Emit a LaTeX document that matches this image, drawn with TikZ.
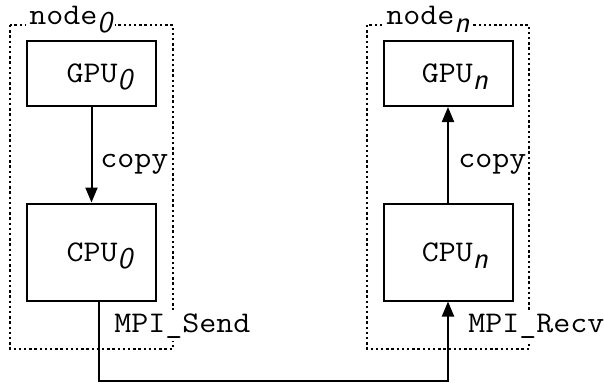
\documentclass[tikz,border=0pt]{standalone}
\usepackage{fontspec}
\setmonofont{Latin Modern Mono}[FakeStretch=1.1]
\usetikzlibrary{arrows.meta}
\newcommand{\sbs}[1]{\raisebox{-3.6pt}{\sffamily\itshape #1}}
\begin{document}
\begin{tikzpicture}[x=0.5pt,y=-0.5pt,
  every node/.style={font=\fontsize{15pt}{17pt}\selectfont\ttfamily},
  grp/.style={draw, line width=0.9pt, dash pattern=on 1.2pt off 1.4pt},
  unit/.style={draw, line width=1pt, minimum width=64.5pt, inner sep=0pt,
     text height=9pt, text depth=0pt},
  gpu/.style={unit, minimum height=32.5pt},
  cpu/.style={unit, minimum height=48.5pt},
  lbl/.style={fill=white, inner sep=1.5pt},
  conn/.style={line width=1pt},
  arr/.style={conn, -{Triangle[length=7.5pt, width=6pt]}}]
\useasboundingbox (0,0) rectangle (604,385);
% node groups
\draw[grp] (10,25) rectangle (173,349);
\draw[grp] (367,25) rectangle (529,349);
\node[lbl, anchor=base west] (n0) at (26,25) {node\sbs{0}};
\node[lbl, anchor=base west] (nn) at (383,25) {node\sbs{n}};
% units
\node[gpu] (gpu0) at (91.5,73.5) {\hspace*{8pt}GPU\sbs{0}};
\node[cpu] (cpu0) at (91.5,252) {\hspace*{8pt}CPU\sbs{0}};
\node[gpu] (gpun) at (448,73.5) {\hspace*{7pt}GPU\sbs{n}};
\node[cpu] (cpun) at (448,252) {\hspace*{7pt}CPU\sbs{n}};
% copies
\draw[arr] (gpu0) -- (cpu0);
\draw[arr] (cpun) -- (gpun);
\node[anchor=base west, inner sep=0pt] (c0) at (100,167) {copy};
\node[anchor=base west, inner sep=0pt] (cn) at (458,167) {copy};
% MPI
\node[lbl, anchor=base west] (send) at (111,332) {MPI\_Send};
\node[lbl, anchor=base west] (recv) at (465,332) {MPI\_Recv};
\coordinate (sx) at (99,381);
\draw[arr] (cpu0.south -| sx) -- (sx) -| (cpun.south);
\end{tikzpicture}
\end{document}
